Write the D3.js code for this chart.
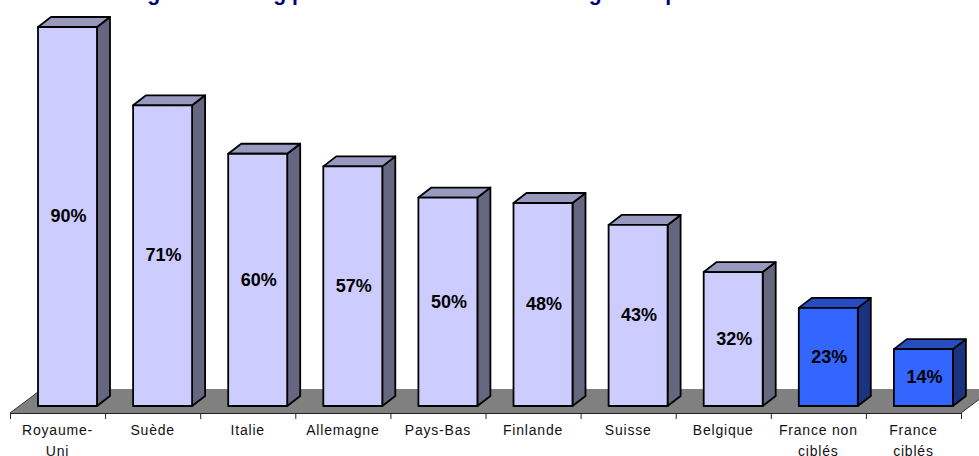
<html>
    <head>
        <title>Budget marketing</title>
        <style>
            body { margin: 0; background: white; }
            svg { display: block; }
            .chart text { font-family: "Liberation Sans", Arial, sans-serif; fill: black; }
            .chart .title { font-size: 21.2px; font-weight: bold; fill: #000080; text-anchor: start; }
            .chart .value { font-size: 18px; font-weight: bold; text-anchor: middle; dominant-baseline: middle; }
            .chart .axis text { font-size: 14px; letter-spacing: 0.8px; fill: #111; }
            .chart .axis path, .chart .axis line { stroke: #222; }
            .chart .box polygon { stroke: black; stroke-width: 1.8; stroke-linejoin: round; }
        </style>
    </head>
    <body>
        <svg class="chart" width="979" height="456"></svg>
        <script src="https://d3js.org/d3.v7.min.js"></script>
        <script>
            var categories = ["Royaume-|Uni", "Suède", "Italie", "Allemagne", "Pays-Bas", "Finlande", "Suisse", "Belgique", "France non|ciblés", "France|ciblés"];
            // labels are rounded, the extra decimal comes from the bar heights
            var values = [0.90, 0.714, 0.599, 0.569, 0.495, 0.482, 0.43, 0.318, 0.233, 0.135];
            var highlighted = ["France non|ciblés", "France|ciblés"];
            // the top of the title is cut off in the picture, only the descenders show
            // so this wording is a guess that lines up with them
            var titleText = "Budget marketing par habitant des clients de la grande presse";

            var width = 979, height = 456;
            var floorFront = 413, barBase = 406;
            var depthX = 13, depthY = 10;
            var barWidth = 59;

            var xScale = d3.scaleBand().domain(categories).range([10, 961]);
            var yScale = d3.scaleLinear().domain([0, 0.9]).range([barBase, 27]);
            var format = d3.format(".0%");

            var chart = d3.select(".chart");

            chart.append("text").attr("class", "title").attr("x", 106).attr("y", 0).text(titleText);

            // floor
            chart.append("polygon")
                .attr("points", [[10, floorFront], [961, floorFront], [993, 389], [42, 389]].join(" "))
                .style("fill", "#808080");
            chart.append("path")
                .attr("d", "M42,389L10," + floorFront)
                .style("stroke", "#333").style("fill", "none");
            chart.append("path")
                .attr("d", "M961," + floorFront + "L993,389")
                .style("stroke", "#333").style("fill", "none");

            // ticks sit between the categories
            var tickScale = d3.scaleLinear().domain([0, categories.length]).range(xScale.range());
            chart.append("g")
                .attr("class", "axis")
                .attr("transform", "translate(0," + floorFront + ")")
                .call(d3.axisBottom(tickScale).ticks(categories.length).tickSize(6).tickSizeOuter(0).tickFormat(""));

            var labelAxis = chart.append("g")
                .attr("class", "axis")
                .attr("transform", "translate(0," + floorFront + ")")
                .call(d3.axisBottom(xScale).tickSize(0).tickFormat(""));
            labelAxis.select(".domain").remove();
            labelAxis.selectAll(".tick text").each(function(d) {
                var label = d3.select(this).attr("y", 22).attr("dy", null);
                d.split("|").forEach(function(line, i) {
                    label.append("tspan").attr("x", 0).attr("y", 22 + i * 21).text(line);
                });
            });

            var bars = chart.selectAll(".box")
                .data(categories)
                .enter()
                .append("g")
                .attr("class", "box")
                .attr("transform", function(d) { return "translate(" + (xScale(d) + 28) + ",0)"; });

            function colors(d) {
                return highlighted.indexOf(d) >= 0
                    ? { front: "#3366FF", side: "#1A3380", top: "#264CBF" }
                    : { front: "#CCCCFF", side: "#666680", top: "#9999BF" };
            }

            // side face
            bars.append("polygon")
                .attr("points", function(d, i) {
                    var t = yScale(values[i]);
                    return [[barWidth, t], [barWidth + depthX, t - depthY], [barWidth + depthX, barBase - depthY], [barWidth, barBase]].join(" ");
                })
                .style("fill", function(d) { return colors(d).side; });

            // top face
            bars.append("polygon")
                .attr("points", function(d, i) {
                    var t = yScale(values[i]);
                    return [[0, t], [depthX, t - depthY], [barWidth + depthX, t - depthY], [barWidth, t]].join(" ");
                })
                .style("fill", function(d) { return colors(d).top; });

            // front face
            bars.append("polygon")
                .attr("points", function(d, i) {
                    var t = yScale(values[i]);
                    return [[0, t], [barWidth, t], [barWidth, barBase], [0, barBase]].join(" ");
                })
                .style("fill", function(d) { return colors(d).front; });

            bars.append("text")
                .attr("class", "value")
                .attr("x", barWidth / 2 + 1)
                .attr("y", function(d, i) { return (yScale(values[i]) + barBase) / 2 + 1; })
                .text(function(d, i) { return format(values[i]); });
        </script>
    </body>
</html>
